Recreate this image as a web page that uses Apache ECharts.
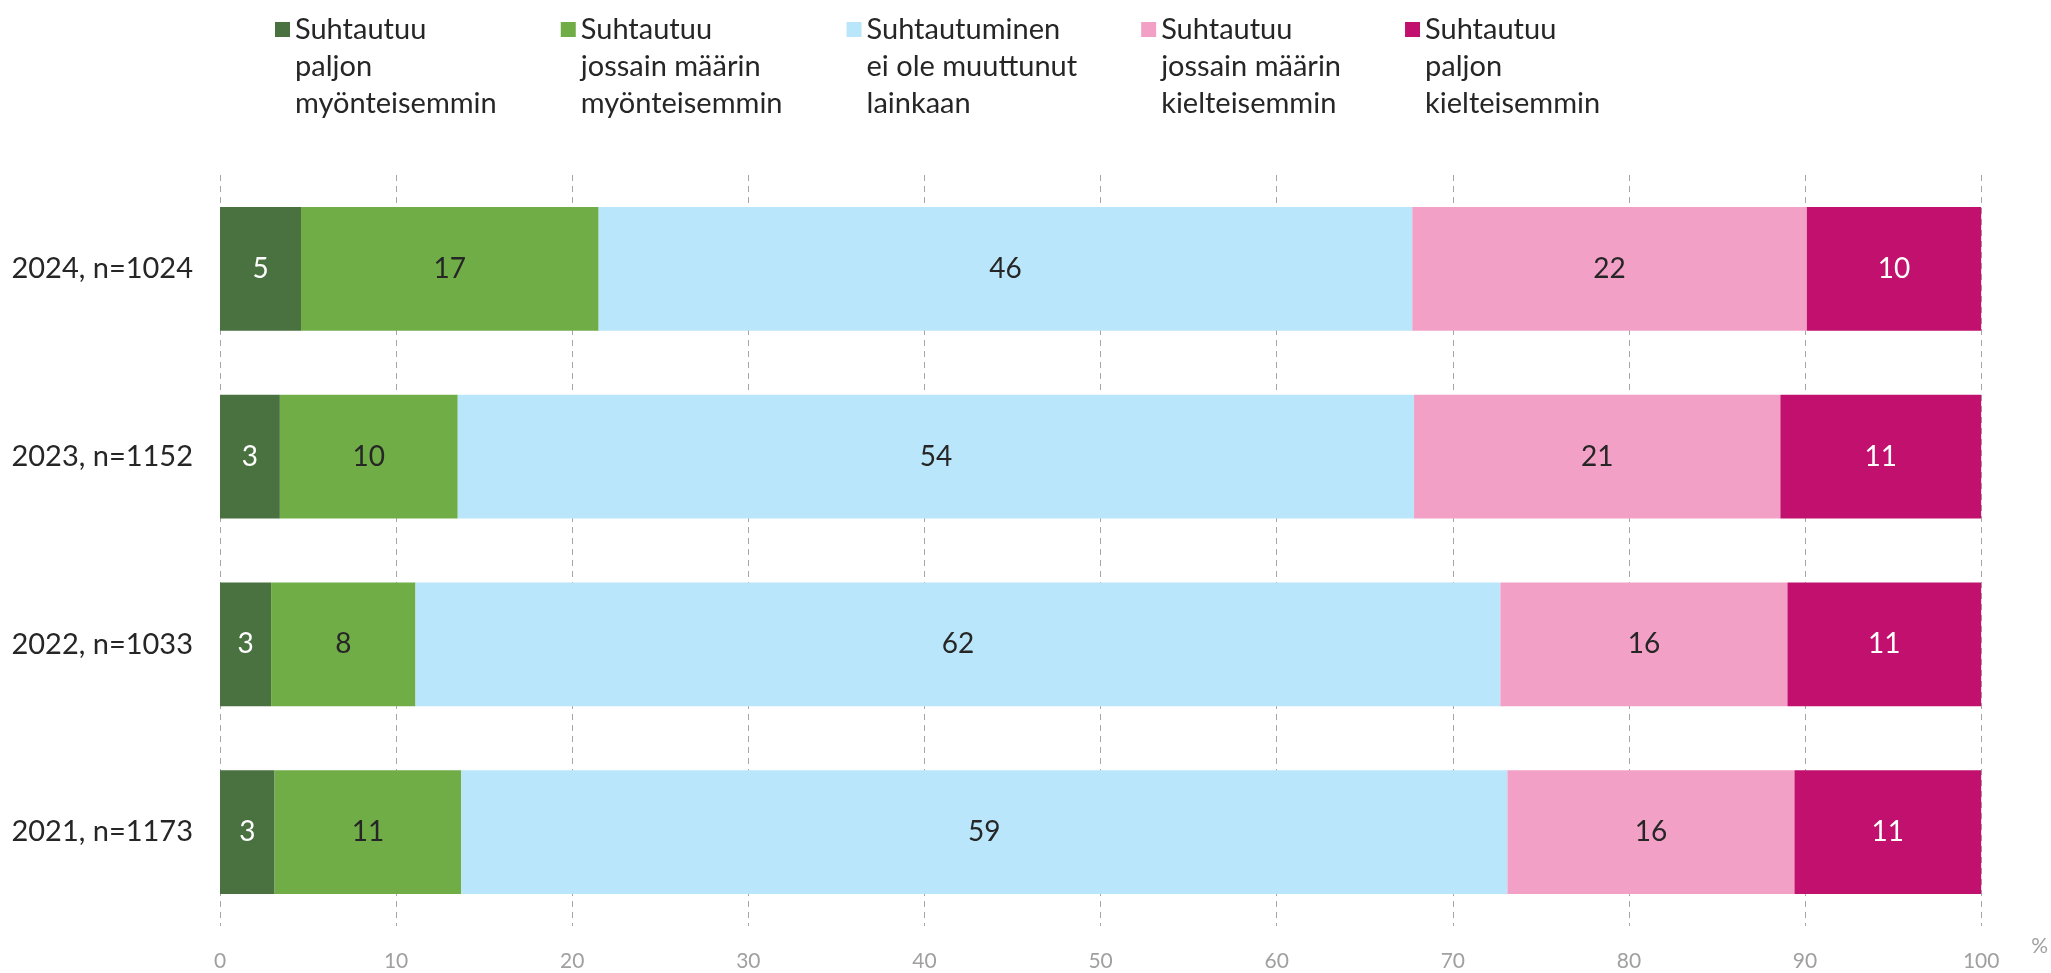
<!DOCTYPE html>
<html>
<head>
<meta charset="utf-8">
<script src="https://cdn.jsdelivr.net/npm/echarts@6/dist/echarts.min.js"></script>
<style>
  html, body { margin: 0; padding: 0; background: #fff; }
  #chart { width: 2051px; height: 973px; }
</style>
</head>
<body>
<div id="chart"></div>
<script>
// vuodet ylhäältä alas
const categories = ['2024, n=1024', '2023, n=1152', '2022, n=1033', '2021, n=1173']

const seriesNames = [
  'Suhtautuu\npaljon\nmyönteisemmin',
  'Suhtautuu\njossain määrin\nmyönteisemmin',
  'Suhtautuminen\nei ole muuttunut\nlainkaan',
  'Suhtautuu\njossain määrin\nkielteisemmin',
  'Suhtautuu\npaljon\nkielteisemmin'
]

const paljonMyont = [4.6, 3.4, 2.9, 3.1]
const jossainMyont = [16.9, 10.1, 8.2, 10.6]
const eiMuuttunut = [46.2, 54.3, 61.6, 59.4]
const jossainKielt = [22.4, 20.8, 16.3, 16.3]
const paljonKielt = [9.9, 11.4, 11.0, 10.6]

const xTicks = [0, 10, 20, 30, 40, 50, 60, 70, 80, 90, 100]

const colors = ['#4a7140', '#70ad47', '#bae6fb', '#f3a0c6', '#c1106e']
const labelColors = ['#ffffff', '#262626', '#262626', '#262626', '#ffffff']
const allData = [paljonMyont, jossainMyont, eiMuuttunut, jossainKielt, paljonKielt]

const font = 'Lato, "Noto Sans", sans-serif'

const chart = echarts.init(document.getElementById('chart'))

const series = allData.map((d, i) => ({
  name: seriesNames[i],
  type: 'bar',
  stack: 'total',
  barCategoryGap: '34%',
  itemStyle: { color: colors[i] },
  label: {
    show: true,
    position: 'inside',
    color: labelColors[i],
    fontFamily: font,
    fontSize: 28,
    formatter: (p) => Math.round(p.value)
  },
  data: d
}))

chart.setOption({
  animation: false,
  textStyle: { fontFamily: font },
  legend: {
    left: 270,
    top: -68,
    icon: 'rect',
    itemWidth: 15,
    itemHeight: 15,
    itemGap: 64,
    selectedMode: false,
    // kaksi tyhjää riviä ylös, jotta ruutu osuu ensimmäiselle riville
    formatter: (name) => '\n\n' + name,
    textStyle: {
      fontFamily: font,
      fontSize: 29,
      lineHeight: 37,
      color: '#262626'
    },
    data: seriesNames
  },
  grid: {
    left: 220,
    right: 68,
    top: 175,
    bottom: 47
  },
  xAxis: {
    type: 'value',
    min: xTicks[0],
    max: xTicks[xTicks.length - 1],
    interval: 10,
    name: '%',
    nameLocation: 'end',
    nameGap: 50,
    nameTextStyle: {
      color: '#a0a0a0',
      fontSize: 21,
      fontFamily: font,
      verticalAlign: 'top',
      padding: [10, 0, 0, 0]
    },
    axisLine: { show: false },
    axisTick: { show: false },
    axisLabel: {
      color: '#a0a0a0',
      fontSize: 21,
      fontFamily: font,
      margin: 25
    },
    splitLine: {
      show: true,
      lineStyle: { color: '#a6a6a6', type: [6, 5], width: 1 }
    }
  },
  yAxis: {
    type: 'category',
    inverse: true,
    data: categories,
    axisLine: { show: false },
    axisTick: { show: false },
    axisLabel: {
      color: '#262626',
      fontSize: 29,
      fontFamily: font,
      margin: 27
    }
  },
  series: series
})
</script>
</body>
</html>
